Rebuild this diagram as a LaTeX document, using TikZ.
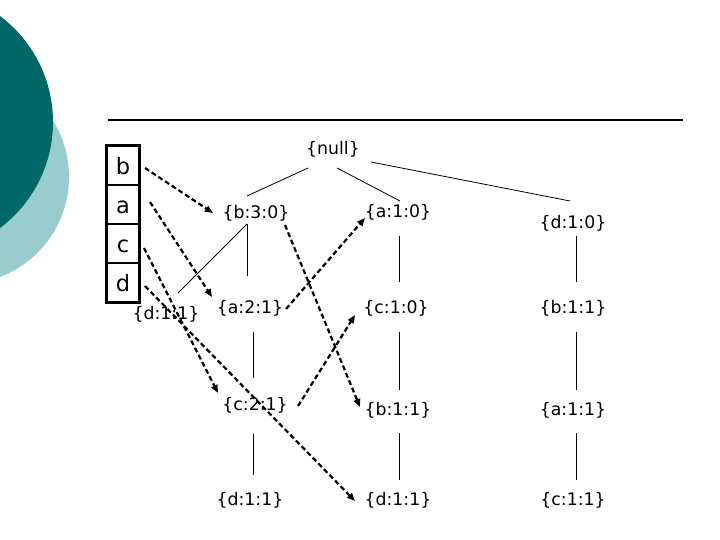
\documentclass[tikz,border=0pt]{standalone}
\usepackage{fontspec}
\setmainfont{DejaVu Sans}
\usetikzlibrary{arrows.meta,calc}
\definecolor{slidedark}{RGB}{0,102,102}
\definecolor{slidelight}{RGB}{153,204,204}

\begin{document}
\begin{tikzpicture}[x=1pt,y=-1pt,
 item/.style={draw,line width=1.6pt,minimum width=31pt,minimum height=39pt,inner sep=0pt,
  font=\fontsize{22.5}{26}\selectfont,text height=18pt,text depth=0pt},
 tlabel/.style={font=\fontsize{17.3}{20}\selectfont,inner sep=1pt},
 tree/.style={line width=.8pt},
 link/.style={line width=2.2pt,dash pattern=on 5pt off 3pt,-{Triangle[length=8pt,width=6.5pt]}}]
 \useasboundingbox(0,0)rectangle(720,540);
 % slide decoration, cut by the page edge
 \begin{scope}
  \clip(0,0)rectangle(720,540);
  \fill[slidelight](-38,177)circle(107);
  \fill[slidedark](-79.5,122)circle(132.5);
 \end{scope}
 \draw[line width=2pt](108,120)--(683,120);
 % header table
 \node[item](cb)at(123,165.5){b};
 \node[item](ca)at(123,204.5){a};
 \node[item](cc)at(123,243.5){c};
 \node[item](cd)at(123,282.5){d};
 \draw[line width=3pt](cb.north west)rectangle(cd.south east);
 % tree
 \node[tlabel](null)at(333,149){\{null\}};
 \node[tlabel](b30)at(256,213){\{b:3:0\}};
 \node[tlabel](a10)at(398,212){\{a:1:0\}};
 \node[tlabel](d10)at(573,223){\{d:1:0\}};
 \node[tlabel](d11a)at(166,314){\{d:1:1\}};
 \node[tlabel](a21)at(250,308){\{a:2:1\}};
 \node[tlabel](c10)at(396,308){\{c:1:0\}};
 \node[tlabel](b11c)at(573,308){\{b:1:1\}};
 \node[tlabel](c21)at(255,405){\{c:2:1\}};
 \node[tlabel](b11)at(398,410){\{b:1:1\}};
 \node[tlabel](a11)at(573,410){\{a:1:1\}};
 \node[tlabel](d11b)at(250,500){\{d:1:1\}};
 \node[tlabel](d11c)at(398,500){\{d:1:1\}};
 \node[tlabel](c11)at(573,500){\{c:1:1\}};
 \draw[tree]($(null)+(-25,19)$)--($(b30)+(-9,-17)$);
 \draw[tree]($(null)+(4,19)$)--($(a10)+(2,-11)$);
 \draw[tree]($(null)+(38,13)$)--($(d10)+(-3,-22)$);
 \draw[tree]($(b30)+(-9,11)$)--($(a21)+(-3,-32)$);
 \draw[tree]($(b30)+(-9,11)$)--($(d11a)+(12,-21)$);
 \draw[tree]($(a21)+(3,24)$)--($(c21)+(-2,-27)$);
 \draw[tree]($(c21)+(-2,29)$)--($(d11b)+(3,-25)$);
 \draw[tree]($(a10)+(1,24)$)--($(c10)+(3,-26)$);
 \draw[tree]($(c10)+(3,24)$)--($(b11)+(1,-20)$);
 \draw[tree]($(b11)+(1,23)$)--($(d11c)+(1,-20)$);
 \draw[tree]($(d10)+(3,13)$)--($(b11c)+(3,-26)$);
 \draw[tree]($(b11c)+(3,24)$)--($(a11)+(3,-20)$);
 \draw[tree]($(a11)+(3,23)$)--($(c11)+(3,-20)$);
 % node links
 \draw[link]($(cb)+(22,2.5)$)--($(b30)+(-43,0)$);
 \draw[link]($(ca)+(27,-2.5)$)--($(a21)+(-38,-11)$);
 \draw[link]($(cc)+(21,4.5)$)--($(c21)+(-37,-12)$);
 \draw[link]($(cd)+(22,3.5)$)--($(d11c)+(-43,1)$);
 \draw[link]($(b30)+(29,12)$)--($(b11)+(-38,-3)$);
 \draw[link]($(a21)+(36,1)$)--($(a10)+(-33,6)$);
 \draw[link]($(c21)+(43,1)$)--($(c10)+(-41,7)$);
\end{tikzpicture}
\end{document}
